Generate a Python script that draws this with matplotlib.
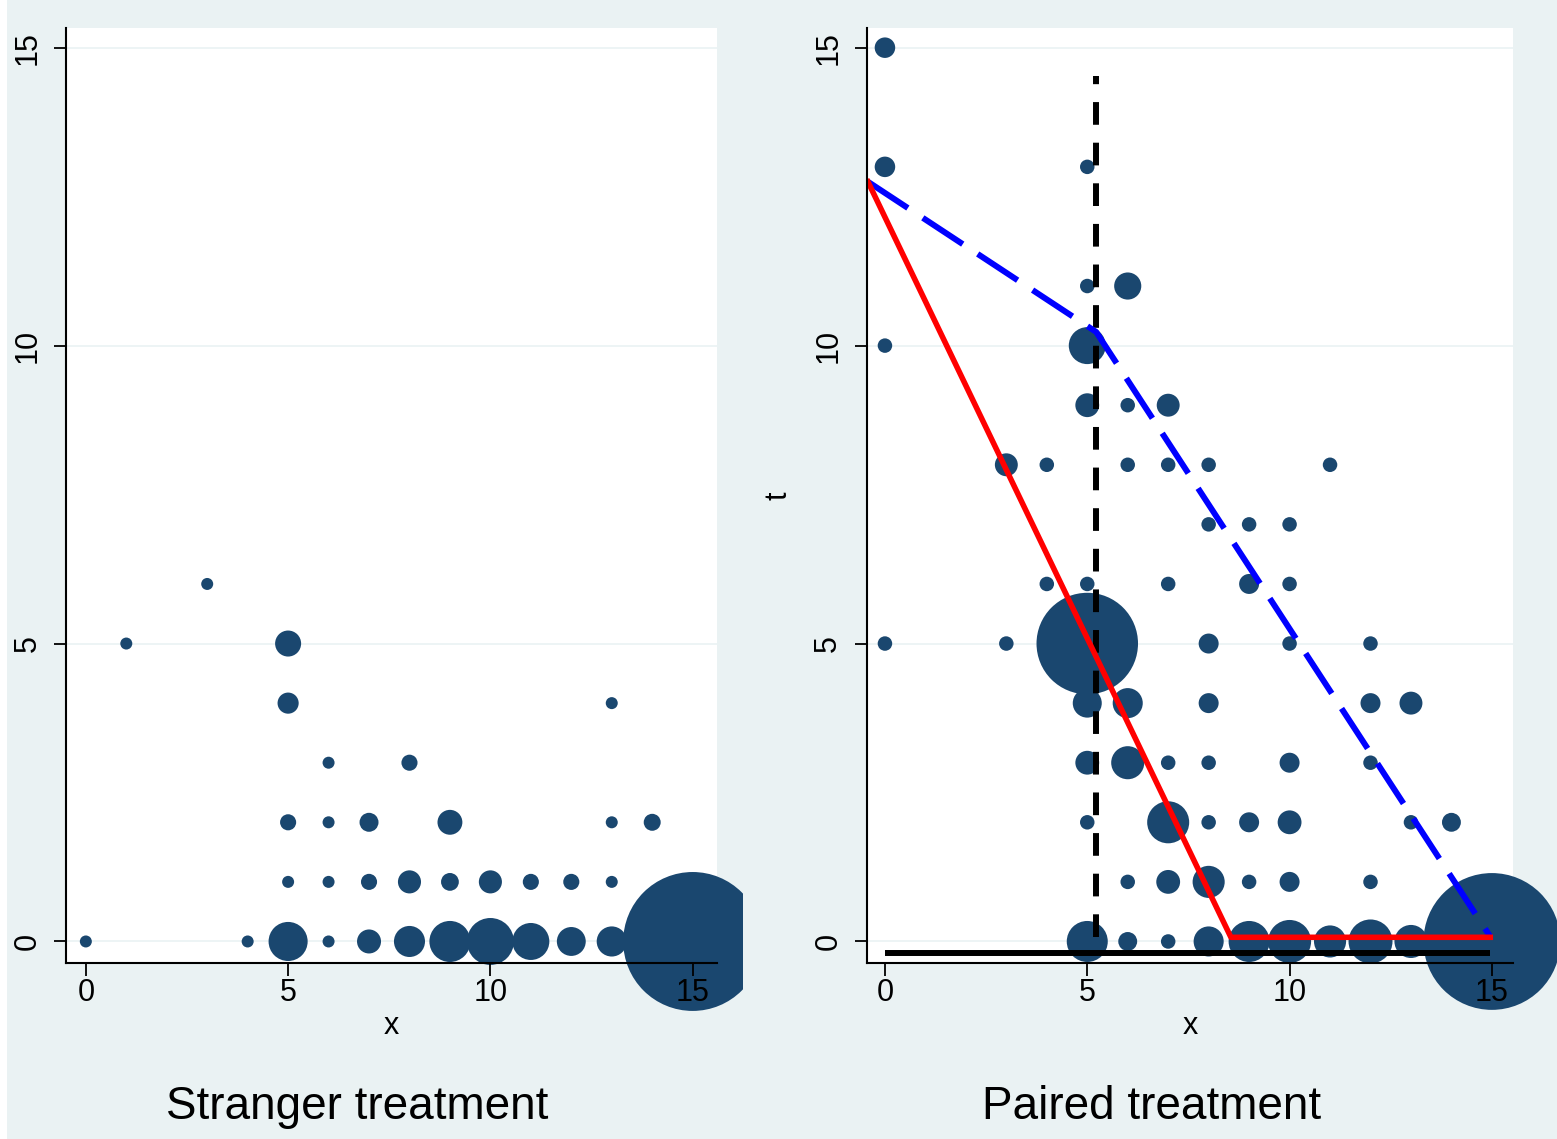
import numpy as np
import matplotlib.pyplot as plt
from matplotlib.patches import Rectangle
from matplotlib.transforms import Bbox, TransformedBbox

plt.rcParams['font.family'] = ['Liberation Sans', 'DejaVu Sans']

# Stranger treatment: x, t and bubble weight (frequency)
s_x = [0, 1, 3, 4, 5, 5, 5, 5, 5, 6, 6, 6, 6, 7, 7, 7, 8, 8, 8,
       9, 9, 9, 10, 10, 11, 11, 12, 12, 13, 13, 13, 13, 14, 15]
s_t = [0, 5, 6, 0, 5, 4, 2, 1, 0, 3, 2, 1, 0, 2, 1, 0, 3, 1, 0,
       2, 1, 0, 1, 0, 1, 0, 1, 0, 4, 2, 1, 0, 2, 0]
s_w = [1, 1, 1, 1, 4.7, 3.1, 1.8, 1, 10.6, 1, 1, 1, 1, 2.5, 1.8, 4, 1.8, 3.7, 6.7,
       4.3, 2.2, 11.7, 3.7, 15.3, 1.8, 9.5, 1.8, 5.8, 1, 1, 1, 6.3, 2, 134]

# Paired treatment: x, t and bubble weight (frequency)
p_x = [0, 0, 0, 0,
       3, 3,
       4, 4,
       5, 5, 5, 5, 5, 5, 5, 5, 5, 5,
       6, 6, 6, 6, 6, 6, 6,
       7, 7, 7, 7, 7, 7, 7,
       8, 8, 8, 8, 8, 8, 8, 8,
       9, 9, 9, 9, 9,
       10, 10, 10, 10, 10, 10, 10,
       11, 11,
       12, 12, 12, 12, 12,
       13, 13, 13,
       14, 15]
p_t = [15, 13, 10, 5,
       8, 5,
       8, 6,
       13, 11, 10, 9, 6, 5, 4, 3, 2, 0,
       11, 9, 8, 4, 3, 1, 0,
       9, 8, 6, 3, 2, 1, 0,
       8, 7, 5, 4, 3, 2, 1, 0,
       7, 6, 2, 1, 0,
       7, 6, 5, 3, 2, 1, 0,
       8, 0,
       5, 4, 3, 1, 0,
       4, 2, 0,
       2, 0]
p_w = [2, 2, 1, 1,
       2.5, 1,
       1, 1,
       1, 1, 6.5, 2.7, 1, 49, 4, 2.7, 1, 8,
       3.5, 1, 1, 4.3, 5.2, 1, 1.7,
       2.5, 1, 1, 1, 8.4, 2.7, 1,
       1, 1, 1.9, 1.9, 1, 1, 4.9, 4.3,
       1, 1.9, 1.9, 1, 8,
       1, 1, 1, 1.9, 2.7, 1.9, 8.8,
       1, 4.9,
       1, 1.9, 1, 1, 9.2,
       2.5, 1, 5.2,
       1.7, 89]

# reference lines in the paired panel
blue_x = [-0.42, 5.22, 14.96]
blue_t = [12.75, 10.23, 0.08]
red_x = [-0.42, 8.55, 14.96]
red_t = [12.75, 0.07, 0.07]
black_x = [0, 14.96]
black_t = [-0.19, -0.19]
vline_x = 5.22
vline_t = [0.08, 14.52]

ticks = [0, 5, 10, 15]
navy = '#1A476F'
bg = '#EAF2F3'
dpi = 100
px = dpi / 72.0

fig = plt.figure(figsize=(15.57, 11.39), dpi=dpi, facecolor=bg)
fig.patches.append(Rectangle((0, 0), 7 / 1557, 1, transform=fig.transFigure,
                             facecolor='white', edgecolor='none', zorder=0))

ax1 = fig.add_axes([0.0424, 0.1548, 0.4178, 0.8206])
ax2 = fig.add_axes([0.5568, 0.1548, 0.4149, 0.8206])

def style(ax, xlim):
    ax.set_facecolor('white')
    ax.set_xlim(xlim)
    ax.set_ylim(-0.356, 15.33)
    for s in ['top', 'right']:
        ax.spines[s].set_visible(False)
    for s in ['left', 'bottom']:
        ax.spines[s].set_linewidth(1.5)
        ax.spines[s].set_zorder(5)
    ax.set_xticks(ticks)
    ax.set_yticks(ticks)
    ax.tick_params(axis='both', length=9, width=1.3, labelsize=22)
    ax.tick_params(axis='x', pad=2)
    ax.tick_params(axis='y', pad=8)
    for lab in ax.get_yticklabels():
        lab.set_rotation(90)
        lab.set_va('center')
    ax.set_axisbelow(False)
    for v in ticks:
        ax.axhline(v, color=bg, lw=1.2, zorder=0.5)
    ax.set_xlabel('x', fontsize=22, labelpad=2)

style(ax1, (-0.49, 15.59))
style(ax2, (-0.445, 15.52))

sc1 = ax1.scatter(s_x, s_t, s=np.array(s_w) * (12 / px) ** 2, color=navy,
                  linewidths=0, zorder=2)
# the left panel's bubbles spill over the plot area but stop at the panel edge
sc1.set_clip_box(TransformedBbox(Bbox([[0, 0], [743 / 1557, 1]]), fig.transFigure))
ax2.scatter(p_x, p_t, s=np.array(p_w) * (14.5 / px) ** 2, color=navy,
            linewidths=0, zorder=2, clip_on=False)

ax2.plot(black_x, black_t, color='black', lw=4.3, solid_capstyle='butt', zorder=3)
ax2.plot([vline_x, vline_x], vline_t, color='black', lw=4.3,
         dashes=(3.8, 3.0), zorder=3)
ax2.plot(blue_x, blue_t, color='#0000FF', lw=4.3, dashes=(8, 3), zorder=3)
ax2.plot(red_x, red_t, color='#FF0000', lw=4.0, zorder=4)

ax2.set_ylabel('t', fontsize=22, labelpad=14)

fig.text(357 / 1557, 1 - 1107 / 1139, 'Stranger treatment', fontsize=33,
         ha='center', va='center')
fig.text(1152 / 1557, 1 - 1107 / 1139, 'Paired treatment', fontsize=33,
         ha='center', va='center')

fig.savefig('out.png', dpi=dpi, facecolor=bg)
